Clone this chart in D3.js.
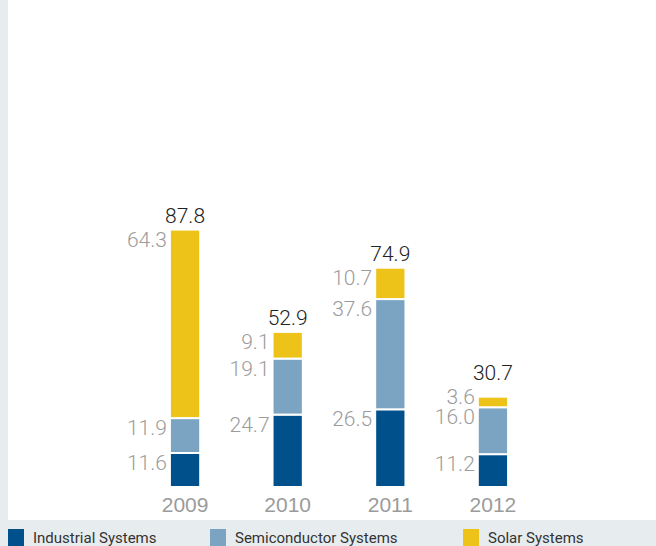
<!DOCTYPE html>
<html>
<head>
<meta charset="utf-8">
<title>sales by segment</title>
<script src="https://cdn.jsdelivr.net/npm/d3@7"></script>
<style>
body{margin:0;background:#fff;}
svg{display:block;font-family:Roboto,"Liberation Sans",sans-serif;}
.seglbl{fill:#9b9b9b;font-size:21px;font-weight:300;}
.total{fill:#222;font-size:21px;font-weight:300;}
.year{fill:#9b9b9b;font-size:21px;font-weight:300;}
.leg text{fill:#333;font-size:15px;}
</style>
</head>
<body>
<script>
var years = ["2009","2010","2011","2012"];
var series = ["Industrial Systems","Semiconductor Systems","Solar Systems"];
var industrial = [11.6, 24.7, 26.5, 11.2];
var semiconductor = [11.9, 19.1, 37.6, 16.0];
var solar = [64.3, 9.1, 10.7, 3.6];
var totals = [87.8, 52.9, 74.9, 30.7];
var colors = ["#00508c","#7ba3c2","#edc31a"];

var W = 656, H = 546;
var svg = d3.select("body").append("svg").attr("width",W).attr("height",H);

// grey frame: left strip and legend band
svg.append("rect").attr("x",0).attr("y",0).attr("width",8).attr("height",H).attr("fill","#e7ecef");
svg.append("rect").attr("x",0).attr("y",520).attr("width",W).attr("height",H-520).attr("fill","#e7ecef");

var table = years.map(function(y,i){
  return {year:y, "Industrial Systems":industrial[i], "Semiconductor Systems":semiconductor[i], "Solar Systems":solar[i], total:totals[i]};
});
var stacked = d3.stack().keys(series)(table);

var x = d3.scaleBand().domain(years).range([134,544]).paddingInner(0.705).paddingOuter(0.35);
var y = d3.scaleLinear().domain([0,88]).range([487,229]);

var g = svg.append("g");
stacked.forEach(function(layer,k){
  g.selectAll(null).data(layer).enter().append("rect")
    .attr("x",function(d){return x(d.data.year);})
    .attr("y",function(d){return y(d[1]);})
    .attr("width",x.bandwidth())
    .attr("height",function(d){return y(d[0])-y(d[1]);})
    .attr("fill",colors[k])
    .attr("stroke","#fff").attr("stroke-width",2);
});

// segment labels, pushed up when they would collide
years.forEach(function(yr,i){
  var prev = 1e9, top = 0;
  stacked.forEach(function(layer){
    var d = layer[i];
    var b = Math.min(y(d[1]) + 17, prev - 20);
    prev = b;
    top = b;
    svg.append("text").attr("class","seglbl")
      .attr("x",x(yr)-3).attr("y",b).attr("text-anchor","end")
      .text(d3.format(".1f")(d[1]-d[0]));
  });
  var bt = Math.min(y(totals[i]) - 5, top - 24);
  svg.append("text").attr("class","total")
    .attr("x",x(yr)+x.bandwidth()/2).attr("y",bt).attr("text-anchor","middle")
    .text(d3.format(".1f")(totals[i]));
});

var xAxis = svg.append("g").attr("transform","translate(0,487)")
  .call(d3.axisBottom(x).tickSize(0).tickPadding(10));
xAxis.select(".domain").remove();
xAxis.selectAll("text").attr("class","year").attr("font-size",null).attr("font-family",null);

// legend
var lx = [8, 210, 463];
var leg = svg.append("g").attr("class","leg");
series.forEach(function(s,i){
  leg.append("rect").attr("x",lx[i]).attr("y",529).attr("width",16).attr("height",17).attr("fill",colors[i]);
  leg.append("text").attr("x",lx[i]+25).attr("y",543).text(s);
});
</script>
</body>
</html>
